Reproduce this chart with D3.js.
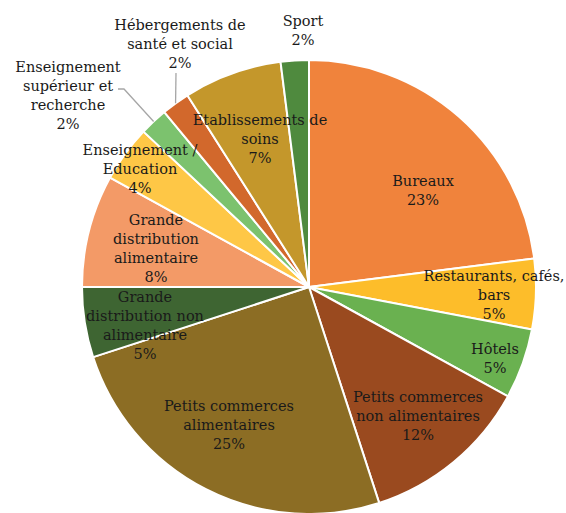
<!DOCTYPE html>
<html>
<head>
<meta charset="utf-8">
<script src="https://cdn.jsdelivr.net/npm/d3@7"></script>
<style>
  html, body { margin: 0; padding: 0; background: #fff; }
  svg text { font-family: "DejaVu Serif", serif; font-size: 14.5px; fill: #1a1a1a; }
</style>
</head>
<body>
<svg id="chart" width="566" height="513"></svg>
<script>
// categories, clockwise from 12 o'clock
const categories = [
  "Bureaux",
  "Restaurants, cafés, bars",
  "Hôtels",
  "Petits commerces non alimentaires",
  "Petits commerces alimentaires",
  "Grande distribution non alimentaire",
  "Grande distribution alimentaire",
  "Enseignement / Education",
  "Enseignement supérieur et recherche",
  "Hébergements de santé et social",
  "Etablissements de soins",
  "Sport"
];
const shares = [23, 5, 5, 12, 25, 5, 8, 4, 2, 2, 7, 2];
const pctLabels = ["23%", "5%", "5%", "12%", "25%", "5%", "8%", "4%", "2%", "2%", "7%", "2%"];

// how each label wraps, as printed on the chart
const labelLines = [
  ["Bureaux"],
  ["Restaurants, cafés,", "bars"],
  ["Hôtels"],
  ["Petits commerces", "non alimentaires"],
  ["Petits commerces", "alimentaires"],
  ["Grande", "distribution non", "alimentaire"],
  ["Grande", "distribution", "alimentaire"],
  ["Enseignement /", "Education"],
  ["Enseignement", "supérieur et", "recherche"],
  ["Hébergements de", "santé et social"],
  ["Etablissements de", "soins"],
  ["Sport"]
];

const colors = [
  "#f0833c", "#fdbd2a", "#6ab150", "#9a4a1f", "#8c6d24", "#3e6532",
  "#f39a67", "#fec746", "#7cc26e", "#d2682c", "#c4972b", "#4f8a3e"
];

const width = 566;
const height = 513;
const cx = 309;
const cy = 287;
const radius = 227;
const lineH = 19;

// label block centres, relative to pie centre
const labelPos = [
  [114, -97], [185, 8], [186, 71], [109, 129], [-80, 138], [-164, 38],
  [-153, -39], [-169, -118], [-241, -192], [-129, -243], [-49, -148], [-6, -257]
];

const svg = d3.select("#chart");
const g = svg.append("g").attr("transform", `translate(${cx},${cy})`);

const pie = d3.pie().sort(null).value(d => d);
const arc = d3.arc().innerRadius(0).outerRadius(radius);
const arcs = pie(shares);

g.append("g")
    .attr("id", "slices")
  .selectAll("path")
  .data(arcs)
  .join("path")
    .attr("d", arc)
    .attr("fill", (d, i) => colors[i])
    .attr("stroke", "#fff")
    .attr("stroke-width", 2)
    .attr("stroke-linejoin", "round");

// leader lines for the two thin slices whose labels sit outside
const leaders = [
  { i: 8, pts: [[-191, -198], [-185, -198]] },
  { i: 9, pts: [[-133, -214]] }
];
const edgePoint = (d, f) => {
  const a = (d.startAngle + d.endAngle) / 2;
  return [Math.sin(a) * radius * f, -Math.cos(a) * radius * f];
};
g.append("g")
    .attr("id", "leaders")
  .selectAll("polyline")
  .data(leaders)
  .join("polyline")
    .attr("points", d => d.pts.concat([edgePoint(arcs[d.i], 1.0)]).join(" "))
    .attr("fill", "none")
    .attr("stroke", "#a6a6a6")
    .attr("stroke-width", 1.3);

const labels = g.append("g")
    .attr("id", "labels")
  .selectAll("text")
  .data(arcs)
  .join("text")
    .attr("text-anchor", "middle")
    .attr("transform", (d, i) => `translate(${labelPos[i][0]},${labelPos[i][1]})`);

labels.each(function(d, i) {
  const lines = labelLines[i].concat([pctLabels[i]]);
  const top = -(lines.length - 1) * lineH / 2;
  d3.select(this).selectAll("tspan")
    .data(lines)
    .join("tspan")
      .attr("x", 0)
      .attr("y", (t, k) => top + k * lineH)
      .attr("dy", "0.35em")
      .text(t => t);
});
</script>
</body>
</html>
